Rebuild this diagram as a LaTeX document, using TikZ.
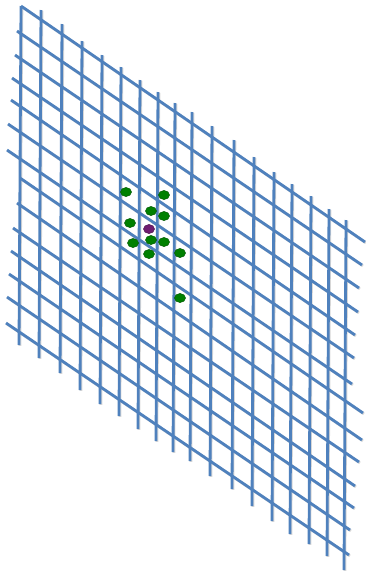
\documentclass[tikz,border=0pt]{standalone}
\usepackage{tikz}
\usetikzlibrary{shapes.geometric}
\usepackage{xcolor}

\definecolor{meshblue}{RGB}{79,129,189}
\definecolor{dotgreen}{RGB}{0,128,0}
\definecolor{dotpurple}{RGB}{112,28,112}

\begin{document}
\begin{tikzpicture}[
  x=1pt, y=-1pt,
  wire/.style={draw=meshblue, line width=2.8pt},
  wireshadow/.style={draw=black!45, line width=2.8pt, opacity=0.35},
  site/.style={ellipse, fill=dotgreen, draw=dotgreen!70!black, line width=0.5pt,
    minimum width=11pt, minimum height=9pt, inner sep=0pt},
  centre/.style={site, fill=dotpurple, draw=dotpurple!70!black}
]
  \useasboundingbox (0,0) rectangle (365,571);

  % Vertical wires: x at top / top y / bottom y (bottom leans 2px left)
  \foreach \x/\t/\b in {21/6/345, 41/10/358, 62/24/373, 82/41/390, 102/55/404,
      121/67/416, 140/80/429, 158/92/441, 175/103/452, 192/112/461, 212/126/476,
      234/140/489, 254/157/506, 274/172/521, 292/184/534, 311/196/544,
      329/209/556, 346/220/570} {
    \draw[wireshadow] (\x+0.9,\t+0.9) -- (\x-1.1,\b+0.9);
  }
  % Slanted wires: left end -> right end
  \foreach \xa/\ya/\xb/\yb in {21/6/365/242, 17/31/362/265, 15/55/359/288,
      12/78/358/312, 11/100/355/335, 8/124/354/358, 7/150/352/384,
      20/178/363/413, 17/203/362/440, 13/228/359/462, 11/251/355/486,
      9/274/354/508, 7/297/350/530, 6/323/349/555} {
    \draw[wireshadow] (\xa+0.9,\ya+0.9) -- (\xb+0.9,\yb+0.9);
  }

  \foreach \x/\t/\b in {21/6/345, 41/10/358, 62/24/373, 82/41/390, 102/55/404,
      121/67/416, 140/80/429, 158/92/441, 175/103/452, 192/112/461, 212/126/476,
      234/140/489, 254/157/506, 274/172/521, 292/184/534, 311/196/544,
      329/209/556, 346/220/570} {
    \draw[wire] (\x,\t) -- (\x-2,\b);
  }
  \foreach \xa/\ya/\xb/\yb in {21/6/365/242, 17/31/362/265, 15/55/359/288,
      12/78/358/312, 11/100/355/335, 8/124/354/358, 7/150/352/384,
      20/178/363/413, 17/203/362/440, 13/228/359/462, 11/251/355/486,
      9/274/354/508, 7/297/350/530, 6/323/349/555} {
    \draw[wire] (\xa,\ya) -- (\xb,\yb);
  }

  % Atoms on the lattice
  \foreach \n/\x/\y in {1/126/192, 2/164/195, 3/151/211, 4/164/216, 5/130/223,
      6/133/243, 7/151/240, 8/164/242, 9/149/254, 10/180/253, 11/180/298} {
    \node[site] (d\n) at (\x,\y) {};
  }
  \node[centre] (d0) at (149,229) {};

\end{tikzpicture}
\end{document}
